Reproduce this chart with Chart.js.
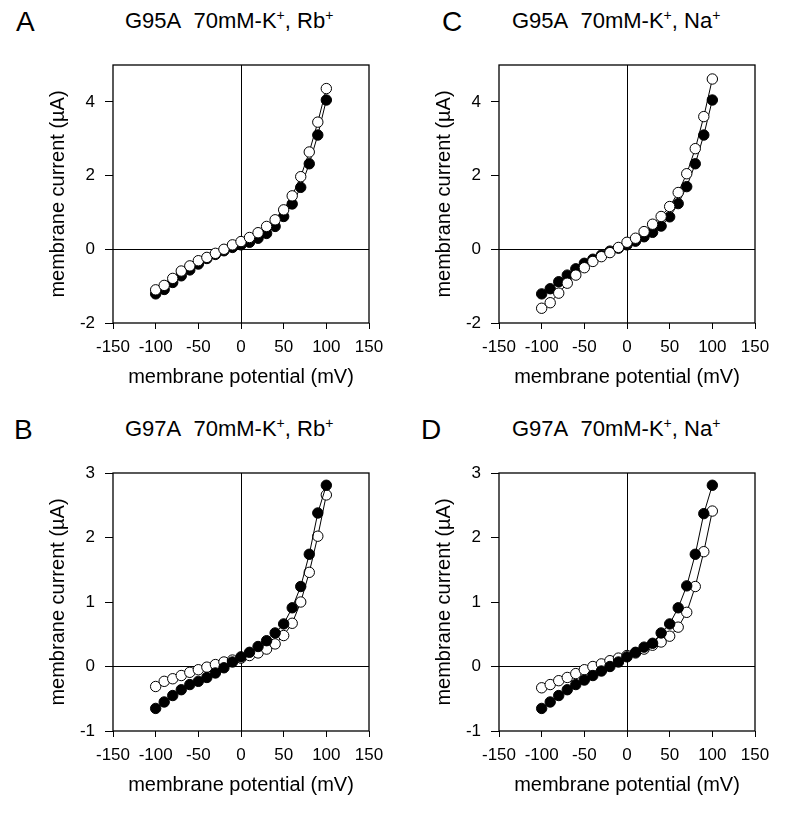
<!DOCTYPE html>
<html>
<head>
<meta charset="utf-8">
<script src="https://cdn.jsdelivr.net/npm/chart.js@4.4.1/dist/chart.umd.min.js"></script>
<style>
  body { margin: 0; background: #fff; }
  #wrap { position: relative; width: 788px; height: 814px; font-family: "Liberation Sans", Arial, sans-serif; color: #000; }
  canvas { position: absolute; }
  .lettre { position: absolute; font-size: 28px; line-height: 28px; }
  .titre { position: absolute; font-size: 22px; line-height: 22px; white-space: nowrap; }
  .titre sup { font-size: 14px; vertical-align: 8px; line-height: 0; }
</style>
</head>
<body>
<div id="wrap">
  <div class="lettre" style="left:16px;top:8px">A</div>
  <div class="titre" style="left:125px;top:10px">G95A&nbsp; 70mM-K<sup>+</sup>, Rb<sup>+</sup></div>
  <div class="lettre" style="left:442px;top:8px">C</div>
  <div class="titre" style="left:512px;top:10px">G95A&nbsp; 70mM-K<sup>+</sup>, Na<sup>+</sup></div>
  <div class="lettre" style="left:14px;top:416px">B</div>
  <div class="titre" style="left:125px;top:418px">G97A&nbsp; 70mM-K<sup>+</sup>, Rb<sup>+</sup></div>
  <div class="lettre" style="left:421px;top:416px">D</div>
  <div class="titre" style="left:512px;top:418px">G97A&nbsp; 70mM-K<sup>+</sup>, Na<sup>+</sup></div>
  <canvas id="chartA" width="394" height="407" style="left:0;top:0"></canvas>
  <canvas id="chartC" width="394" height="407" style="left:386px;top:0"></canvas>
  <canvas id="chartB" width="394" height="407" style="left:0;top:408px"></canvas>
  <canvas id="chartD" width="394" height="407" style="left:386px;top:408px"></canvas>
</div>
<script>
// potentiels (mV)
const potentiels = [-100, -90, -80, -70, -60, -50, -40, -30, -20, -10, 0, 10, 20, 30, 40, 50, 60, 70, 80, 90, 100];

// courants (uA)
const aPlein = [-1.21, -1.09, -0.90, -0.72, -0.56, -0.40, -0.25, -0.14, -0.04, 0.05, 0.12, 0.19, 0.30, 0.43, 0.62, 0.89, 1.23, 1.68, 2.32, 3.10, 4.05];
const aVide = [-1.10, -0.98, -0.79, -0.59, -0.45, -0.31, -0.22, -0.11, 0.00, 0.12, 0.21, 0.32, 0.45, 0.62, 0.80, 1.07, 1.45, 1.97, 2.64, 3.45, 4.36];
const cPlein = [-1.21, -1.07, -0.88, -0.70, -0.53, -0.38, -0.27, -0.16, -0.05, 0.03, 0.12, 0.22, 0.34, 0.46, 0.63, 0.88, 1.24, 1.70, 2.32, 3.10, 4.05];
const cVide = [-1.60, -1.45, -1.19, -0.92, -0.70, -0.50, -0.33, -0.20, -0.09, 0.05, 0.19, 0.30, 0.48, 0.68, 0.89, 1.16, 1.54, 2.05, 2.73, 3.60, 4.62];
const bPlein = [-0.65, -0.55, -0.45, -0.36, -0.28, -0.23, -0.17, -0.10, -0.02, 0.07, 0.15, 0.22, 0.31, 0.40, 0.52, 0.66, 0.91, 1.24, 1.74, 2.38, 2.81];
const bVide = [-0.31, -0.23, -0.19, -0.14, -0.09, -0.05, -0.01, 0.03, 0.07, 0.10, 0.13, 0.17, 0.21, 0.27, 0.35, 0.48, 0.67, 1.00, 1.46, 2.02, 2.66];
const dPlein = [-0.65, -0.55, -0.45, -0.36, -0.28, -0.21, -0.14, -0.07, 0.00, 0.07, 0.15, 0.22, 0.30, 0.36, 0.52, 0.66, 0.91, 1.25, 1.74, 2.37, 2.81];
const dVide = [-0.33, -0.28, -0.22, -0.17, -0.11, -0.05, 0.00, 0.04, 0.09, 0.13, 0.17, 0.21, 0.27, 0.33, 0.38, 0.47, 0.61, 0.84, 1.24, 1.78, 2.41];

// graduations
const ticksX = [-150, -100, -50, 0, 50, 100, 150];
const ticksY1 = [-2, 0, 2, 4];
const ticksY2 = [-1, 0, 1, 2, 3];

const police = "'Liberation Sans', Arial, sans-serif";

// cadre autour de la zone du graphique
const cadre = {
  id: "cadre",
  afterDraw(chart) {
    const a = chart.chartArea;
    const ctx = chart.ctx;
    ctx.save();
    ctx.strokeStyle = "#000";
    ctx.lineWidth = 1.3;
    ctx.strokeRect(a.left, a.top, a.right - a.left, a.bottom - a.top);
    ctx.restore();
  },
};

function serie(valeurs, plein) {
  return {
    data: potentiels.map((x, i) => ({ x: x, y: valeurs[i] })),
    borderColor: "#000",
    borderWidth: 1,
    pointRadius: 5.2,
    pointBorderWidth: 1,
    pointBorderColor: "#000",
    pointBackgroundColor: plein ? "#000" : "#fff",
    showLine: true,
    tension: 0,
    clip: false,
  };
}

function graphique(id, dessus, dessous, minY, maxY, ticksY) {
  const ligneZero = (c) => (c.tick && c.tick.value === 0 ? "#000" : "rgba(0,0,0,0)");
  const config = {
    type: "scatter",
    data: { datasets: [dessus, dessous] },
    options: {
      responsive: false,
      animation: false,
      layout: { padding: { left: 46, right: 25, top: 65, bottom: 18 } },
      plugins: { legend: { display: false }, tooltip: { enabled: false } },
      scales: {
        x: {
          type: "linear",
          min: -150,
          max: 150,
          afterBuildTicks: (s) => { s.ticks = ticksX.map((v) => ({ value: v })); },
          afterFit: (s) => { s.height = 66; },
          border: { display: false },
          grid: { color: ligneZero, tickColor: "#000", tickLength: 6, lineWidth: 1 },
          ticks: { color: "#000", font: { family: police, size: 17 }, padding: 8, maxRotation: 0 },
          title: { display: true, text: "membrane potential (mV)", color: "#000", font: { family: police, size: 20 }, padding: 0 },
        },
        y: {
          type: "linear",
          min: minY,
          max: maxY,
          afterBuildTicks: (s) => { s.ticks = ticksY.map((v) => ({ value: v })); },
          afterFit: (s) => { s.width = 67; },
          border: { display: false },
          grid: { color: ligneZero, tickColor: "#000", tickLength: 8, lineWidth: 1 },
          ticks: { color: "#000", font: { family: police, size: 17 }, padding: 10 },
          title: { display: true, text: "membrane current (\u00b5A)", color: "#000", font: { family: police, size: 20 }, padding: 0 },
        },
      },
    },
    plugins: [cadre],
  };
  return new Chart(document.getElementById(id).getContext("2d"), config);
}

// le premier jeu est dessine au-dessus
graphique("chartA", serie(aVide, false), serie(aPlein, true), -2, 5, ticksY1);
graphique("chartC", serie(cVide, false), serie(cPlein, true), -2, 5, ticksY1);
graphique("chartB", serie(bPlein, true), serie(bVide, false), -1, 3, ticksY2);
graphique("chartD", serie(dPlein, true), serie(dVide, false), -1, 3, ticksY2);
</script>
</body>
</html>
